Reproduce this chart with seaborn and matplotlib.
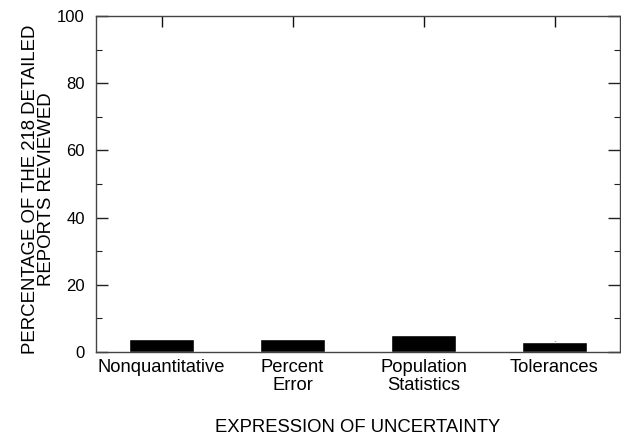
import matplotlib
matplotlib.use("Agg")
import matplotlib.pyplot as plt
from matplotlib.ticker import MultipleLocator
import pandas as pd
import seaborn as sns

# values
categories = ["Nonquantitative", "Percent\nError", "Population\nStatistics", "Tolerances"]
percentages = [4, 4, 5, 3]
y_ticks = [0, 20, 40, 60, 80, 100]

sns.set_style("ticks")
plt.rcParams["font.family"] = ["Liberation Sans", "DejaVu Sans"]
plt.rcParams["text.color"] = "black"
plt.rcParams["axes.labelcolor"] = "black"
plt.rcParams["xtick.labelcolor"] = "black"
plt.rcParams["ytick.labelcolor"] = "black"

df = pd.DataFrame({"expression": categories, "pct": percentages})

fig = plt.figure(figsize=(6.21, 4.36), dpi=100)
ax = fig.add_axes([96 / 621, 84 / 436, 524 / 621, 336 / 436])

sns.barplot(data=df, x="expression", y="pct", color="black", saturation=1,
            width=0.5, ax=ax, errorbar=None)

ax.set_axisbelow(True)  # ticks sit under the bars
ax.set_xlim(-0.5, 3.5)
ax.set_ylim(0, 100)
ax.set_yticks(y_ticks)
ax.yaxis.set_minor_locator(MultipleLocator(10))

for side in ["left", "right", "top", "bottom"]:
    ax.spines[side].set_visible(True)
    ax.spines[side].set_color("#444444")
    ax.spines[side].set_linewidth(1.0)

ax.tick_params(axis="y", which="major", direction="in", length=8.5, width=1,
               left=True, right=True, labelsize=12, pad=8, color="#222222")
ax.tick_params(axis="y", which="minor", direction="in", length=4, width=0.8,
               left=True, right=True, color="#222222")
ax.tick_params(axis="x", which="major", direction="in", length=8, width=1,
               top=True, bottom=True, labelsize=13.2, pad=5, color="#111111")
for lbl in ax.get_xticklabels():
    lbl.set_linespacing(1.05)

ax.set_xlabel("EXPRESSION OF UNCERTAINTY", fontsize=13.3, labelpad=18)
ax.set_ylabel("PERCENTAGE OF THE 218 DETAILED\nREPORTS REVIEWED", fontsize=13.4,
              linespacing=0.95)
ax.yaxis.set_label_coords(-0.078, 0.485)

fig.savefig("out.png", dpi=100)
